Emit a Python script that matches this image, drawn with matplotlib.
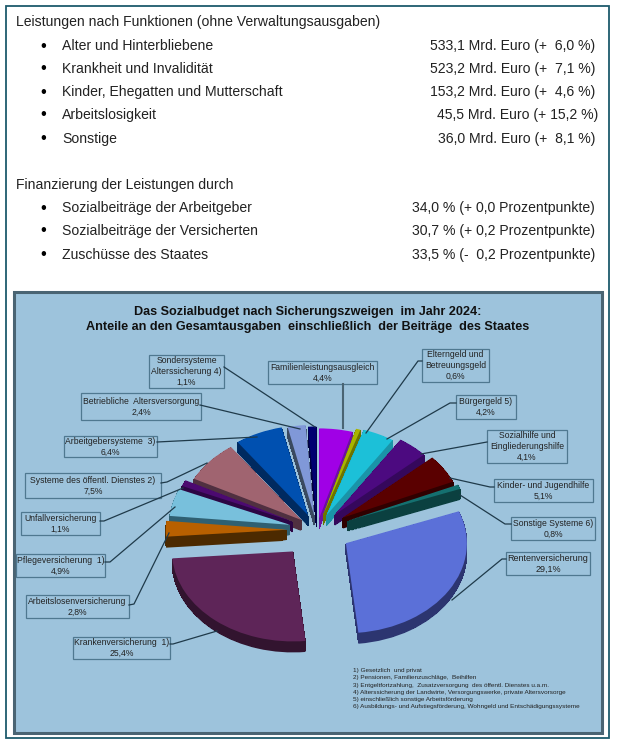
"""Sozialbudget 2024: Kennzahlen und 3D-Tortendiagramm."""
import matplotlib
matplotlib.use("Agg")
import matplotlib.pyplot as plt
import numpy as np
from matplotlib.patches import Rectangle, Wedge
from matplotlib.transforms import Affine2D

plt.rcParams["font.family"] = ["Liberation Sans", "DejaVu Sans"]

# Kennzahlen oben
funktionen = ["Alter und Hinterbliebene", "Krankheit und Invalidität",
              "Kinder, Ehegatten und Mutterschaft", "Arbeitslosigkeit", "Sonstige"]
funktionen_werte = ["533,1 Mrd. Euro (+  6,0 %)", "523,2 Mrd. Euro (+  7,1 %)",
                    "153,2 Mrd. Euro (+  4,6 %)", "45,5 Mrd. Euro (+ 15,2 %)",
                    "36,0 Mrd. Euro (+  8,1 %)"]
finanzierung = ["Sozialbeiträge der Arbeitgeber", "Sozialbeiträge der Versicherten",
                "Zuschüsse des Staates"]
finanzierung_werte = ["34,0 % (+ 0,0 Prozentpunkte)", "30,7 % (+ 0,2 Prozentpunkte)",
                      "33,5 % (-  0,2 Prozentpunkte)"]

# Torte, im Uhrzeigersinn ab 12 Uhr
zweige = ["Familienleistungsausgleich", "Elterngeld und\nBetreuungsgeld", "Bürgergeld 5)",
          "Sozialhilfe und\nEingliederungshilfe", "Kinder- und Jugendhilfe",
          "Sonstige Systeme 6)", "Rentenversicherung", "Krankenversicherung  1)",
          "Arbeitslosenversicherung", "Pflegeversicherung  1)", "Unfallversicherung",
          "Systeme des öffentl. Dienstes 2)", "Arbeitgebersysteme  3)",
          "Betriebliche  Altersversorgung", "Sondersysteme\nAlterssicherung 4)"]
anteile = [4.4, 0.6, 4.2, 4.1, 5.1, 0.8, 29.1, 25.4, 2.8, 4.9, 1.1, 7.5, 6.4, 2.4, 1.1]

fussnoten = ["1) Gesetzlich  und privat",
             "2) Pensionen, Familienzuschläge,  Beihilfen",
             "3) Entgeltfortzahlung,  Zusatzversorgung  des öffentl. Dienstes u.a.m.",
             "4) Alterssicherung der Landwirte, Versorgungswerke, private Altersvorsorge",
             "5) einschließlich sonstige Arbeitsförderung",
             "6) Ausbildungs- und Aufstiegsförderung, Wohngeld und Entschädigungssysteme"]

# Darstellung je Segment
FARBE = ["#a000e6", "#a8b400", "#1cc0d8", "#4c0a80", "#5a0000", "#157070", "#5b70d8", "#5e2558",
         "#b86000", "#78c0dc", "#4c0a70", "#a06470", "#0050b0", "#8098d8", "#000070"]
SEITE = ["#6c10a0", "#6c7400", "#1a94a8", "#35085c", "#300000", "#0b4040", "#2c3570", "#32142f",
         "#4c2a00", "#2f6072", "#2c0644", "#503040", "#002a60", "#3a4a60", "#000040"]
EXPLODE = [.13, .17, .18, .22, .25, .27, .28, .31, .25, .23, .22, .17, .18, .17, .15]

# Beschriftungsboxen: x0, x1, y0, y1 und Führungslinie
BOX = [(268, 377, 361, 384), (422, 489, 349, 382), (456, 516, 395, 419), (487, 567, 430, 463),
       (494, 593, 479, 502), (511, 595, 517, 540), (506, 590, 552, 575), (73, 170, 637, 659),
       (26, 129, 595, 618), (16, 105, 554, 577), (21, 100, 512, 535), (25, 161, 473, 498),
       (64, 157, 436, 457), (81, 201, 393, 420), (149, 224, 355, 388)]
LINIE = [[(343, 384), (343, 428)],
         [(422, 361), (418, 361), (366, 433)],
         [(456, 403), (450, 403), (387, 439)],
         [(487, 442), (421, 454)],
         [(494, 487), (490, 487), (450, 478)],
         [(511, 524), (505, 524), (460, 495)],
         [(506, 559), (502, 559), (452, 600)],
         [(170, 644), (173, 644), (217, 631)],
         [(129, 605), (134, 604), (169, 533)],
         [(105, 562), (110, 562), (175, 507)],
         [(100, 521), (104, 521), (183, 488)],
         [(161, 483), (167, 482), (207, 463)],
         [(157, 442), (257, 437)],
         [(200, 405), (300, 429)],
         [(224, 367), (315, 427)]]

CX, CY = 317, 530
RX, RY = 121, 90
TIEFE = 11
TEXT = "#222222"
FS = 10.12

fig = plt.figure(figsize=(6.2, 7.47), dpi=100)
ax = fig.add_axes([0, 0, 1, 1])
ax.set_xlim(0, 620)
ax.set_ylim(747, 0)
ax.axis("off")

ax.add_patch(Rectangle((6, 6), 603, 732, fc="white", ec="#1e5b6c", lw=1.3))
ax.add_patch(Rectangle((14, 292), 588, 441, fc="#9dc3dc", ec="#4a6473", lw=2.2))

# Textblock oben
ax.text(16, 22, "Leistungen nach Funktionen (ohne Verwaltungsausgaben)",
        fontsize=FS, color=TEXT, va="center")
for y, name, wert in zip([46, 69, 92, 115, 139], funktionen, funktionen_werte):
    ax.text(43, y, "•", fontsize=12, color="black", ha="center", va="center")
    ax.text(62, y, name, fontsize=FS, color=TEXT, va="center")
    ax.text(598 if "15,2" in wert else 595, y, wert, fontsize=FS, color=TEXT, ha="right", va="center")
ax.text(16, 185, "Finanzierung der Leistungen durch", fontsize=FS, color=TEXT, va="center")
for y, name, wert in zip([208, 231, 255], finanzierung, finanzierung_werte):
    ax.text(43, y, "•", fontsize=12, color="black", ha="center", va="center")
    ax.text(62, y, name, fontsize=FS, color=TEXT, va="center")
    ax.text(595, y, wert, fontsize=FS, color=TEXT, ha="right", va="center")

ax.text(308, 312, "Das Sozialbudget nach Sicherungszweigen  im Jahr 2024:", fontsize=9.05,
        fontweight="bold", color="#111111", ha="center", va="center")
ax.text(308, 327, "Anteile an den Gesamtausgaben  einschließlich  der Beiträge  des Staates",
        fontsize=9.05, fontweight="bold", color="#111111", ha="center", va="center")

# Torte: Segmente von hinten nach vorn, Seitenfläche als Stapel verschobener Wedges
summe = sum(anteile)
grad = []
start = 0
for wert in anteile:
    grad.append((start, start + wert / summe * 360))
    start = grad[-1][1]


def mitte(i):
    return np.deg2rad(90 - sum(grad[i]) / 2)


for i in sorted(range(len(anteile)), key=lambda k: -np.sin(mitte(k))):
    w0, w1 = grad[i]
    mx = CX + EXPLODE[i] * RX * np.cos(mitte(i))
    my = CY - EXPLODE[i] * RY * np.sin(mitte(i))
    for d in range(TIEFE, -1, -1):
        tr = Affine2D().scale(RX, -RY).translate(mx, my + d) + ax.transData
        # nur unterste und oberste Lage glätten, sonst Streifen an den Kanten
        ax.add_patch(Wedge((0, 0), 1, 90 - w1, 90 - w0, transform=tr, lw=0,
                           antialiased=d in (0, TIEFE), fc=FARBE[i] if d == 0 else SEITE[i]))

# Beschriftungen
for i, (name, wert) in enumerate(zip(zweige, anteile)):
    x0, x1, y0, y1 = BOX[i]
    ax.add_patch(Rectangle((x0, y0), x1 - x0, y1 - y0, fc="none", ec="#4f7890", lw=0.9))
    text = name + "\n" + f"{wert:.1f}%".replace(".", ",")
    ax.text((x0 + x1) / 2, (y0 + y1) / 2, text, fontsize=6.5 if wert == 29.1 else 6.2,
            color=TEXT, ha="center", va="center", linespacing=1.25)
    xs, ys = zip(*LINIE[i])
    ax.plot(xs, ys, color="#4a6473" if i == 0 else "#1f3a4a", lw=1.5 if i == 0 else 0.9)

for y, zeile in zip([670.3, 677.7, 685, 692.3, 699.3, 706.7], fussnoten):
    ax.text(353, y, zeile, fontsize=4.6, color=TEXT, va="center")

fig.savefig("out.png", dpi=100)
